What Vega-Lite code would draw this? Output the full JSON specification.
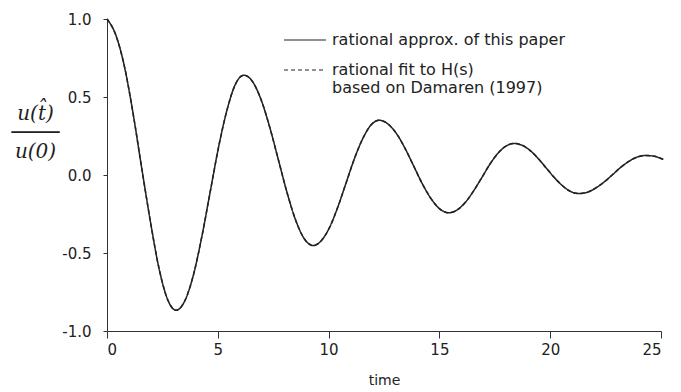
{
  "$schema": "https://vega.github.io/schema/vega-lite/v6.json",
  "autosize": {"type": "none"},
  "padding": {"left": 107, "top": 19, "right": 20, "bottom": 61},
  "width": 554,
  "height": 312,
  "background": "white",
  "config": {
    "view": {"stroke": null},
    "font": "DejaVu Sans",
    "axis": {"grid": false, "domainColor": "#333", "tickColor": "#333", "labelColor": "#222", "titleColor": "#222", "labelFont": "DejaVu Sans", "labelFontSize": 15, "titleFontWeight": "normal"}
  },
  "data": {"values": [
    {"t": 0, "v": 1.0}, {"t": 0.39, "v": 0.9}, {"t": 0.78, "v": 0.7}, {"t": 1.17, "v": 0.4}, {"t": 1.56, "v": 0.05}, {"t": 1.95, "v": -0.291}, {"t": 2.34, "v": -0.594}, {"t": 2.73, "v": -0.796}, {"t": 3.12, "v": -0.867},
    {"t": 3.5, "v": -0.81}, {"t": 3.89, "v": -0.646}, {"t": 4.27, "v": -0.402}, {"t": 4.65, "v": -0.1135}, {"t": 5.03, "v": 0.175}, {"t": 5.42, "v": 0.419}, {"t": 5.8, "v": 0.583}, {"t": 6.18, "v": 0.64},
    {"t": 6.57, "v": 0.598}, {"t": 6.96, "v": 0.48}, {"t": 7.35, "v": 0.303}, {"t": 7.74, "v": 0.094}, {"t": 8.13, "v": -0.115}, {"t": 8.52, "v": -0.292}, {"t": 8.91, "v": -0.41}, {"t": 9.3, "v": -0.452},
    {"t": 9.67, "v": -0.421}, {"t": 10.05, "v": -0.334}, {"t": 10.42, "v": -0.204}, {"t": 10.79, "v": -0.0505}, {"t": 11.16, "v": 0.103}, {"t": 11.54, "v": 0.233}, {"t": 11.91, "v": 0.32}, {"t": 12.28, "v": 0.351},
    {"t": 12.67, "v": 0.328}, {"t": 13.07, "v": 0.264}, {"t": 13.46, "v": 0.168}, {"t": 13.85, "v": 0.0545}, {"t": 14.24, "v": -0.059}, {"t": 14.64, "v": -0.155}, {"t": 15.03, "v": -0.219}, {"t": 15.42, "v": -0.242},
    {"t": 15.79, "v": -0.225}, {"t": 16.16, "v": -0.177}, {"t": 16.53, "v": -0.105}, {"t": 16.9, "v": -0.02}, {"t": 17.26, "v": 0.065}, {"t": 17.63, "v": 0.137}, {"t": 18.0, "v": 0.185}, {"t": 18.37, "v": 0.202},
    {"t": 18.74, "v": 0.19}, {"t": 19.11, "v": 0.155}, {"t": 19.47, "v": 0.103}, {"t": 19.84, "v": 0.0415}, {"t": 20.21, "v": -0.02}, {"t": 20.58, "v": -0.072}, {"t": 20.94, "v": -0.107}, {"t": 21.31, "v": -0.119},
    {"t": 21.69, "v": -0.11}, {"t": 22.06, "v": -0.083}, {"t": 22.44, "v": -0.044}, {"t": 22.82, "v": 0.003}, {"t": 23.19, "v": 0.05}, {"t": 23.57, "v": 0.089}, {"t": 23.94, "v": 0.116}, {"t": 24.32, "v": 0.125},
    {"t": 24.7, "v": 0.12}, {"t": 25.1, "v": 0.1}
  ]},
  "encoding": {
    "x": {"field": "t", "type": "quantitative",
      "scale": {"domain": [0, 25], "nice": false, "zero": false},
      "axis": {"values": [0, 5, 10, 15, 20, 25], "tickSize": 7, "labelPadding": 4, "title": "time", "titleFont": "DejaVu Sans", "titleFontSize": 14, "titlePadding": 16}},
    "y": {"field": "v", "type": "quantitative",
      "scale": {"domain": [-1, 1], "nice": false},
      "axis": {"values": [-1, -0.5, 0, 0.5, 1], "tickSize": 4, "labelPadding": 12,
        "labelExpr": "datum.value < 0 ? '-' + format(-datum.value, '.1f') : format(datum.value, '.1f')",
        "title": ["u(t\u0302)", "\u2500\u2500\u2500\u2500", "u(0)"],
        "titleFont": "DejaVu Serif", "titleFontStyle": "italic", "titleFontSize": 20, "titleLineHeight": 19,
        "titleAngle": 0, "titleAlign": "center", "titleBaseline": "top", "titleX": -72, "titleY": 84}}
  },
  "layer": [
    {"mark": {"type": "line", "stroke": "#222", "strokeWidth": 1.5, "interpolate": "monotone", "clip": false},
     "encoding": {"strokeDash": {"datum": "approx", "type": "nominal",
       "scale": {"domain": ["approx", "fit"], "range": [[1, 0], [4, 3]]},
       "legend": {"orient": "none", "legendX": 176, "legendY": -1, "title": null,
         "symbolType": "stroke", "symbolSize": 1764, "symbolStrokeColor": "#222", "symbolStrokeWidth": 1.2,
         "labelFont": "DejaVu Sans", "labelFontSize": 16, "labelColor": "#222", "labelLimit": 400, "labelOffset": 5,
         "rowPadding": -2, "labelBaseline": "middle",
         "labelExpr": "datum.label == 'fit' ? ['rational fit to H(s)', 'based on Damaren (1997)'] : 'rational approx. of this paper'"}}}},
    {"mark": {"type": "line", "stroke": "#222", "strokeWidth": 1.5, "interpolate": "monotone", "clip": false},
     "encoding": {"strokeDash": {"datum": "fit", "type": "nominal"}}}
  ]
}
